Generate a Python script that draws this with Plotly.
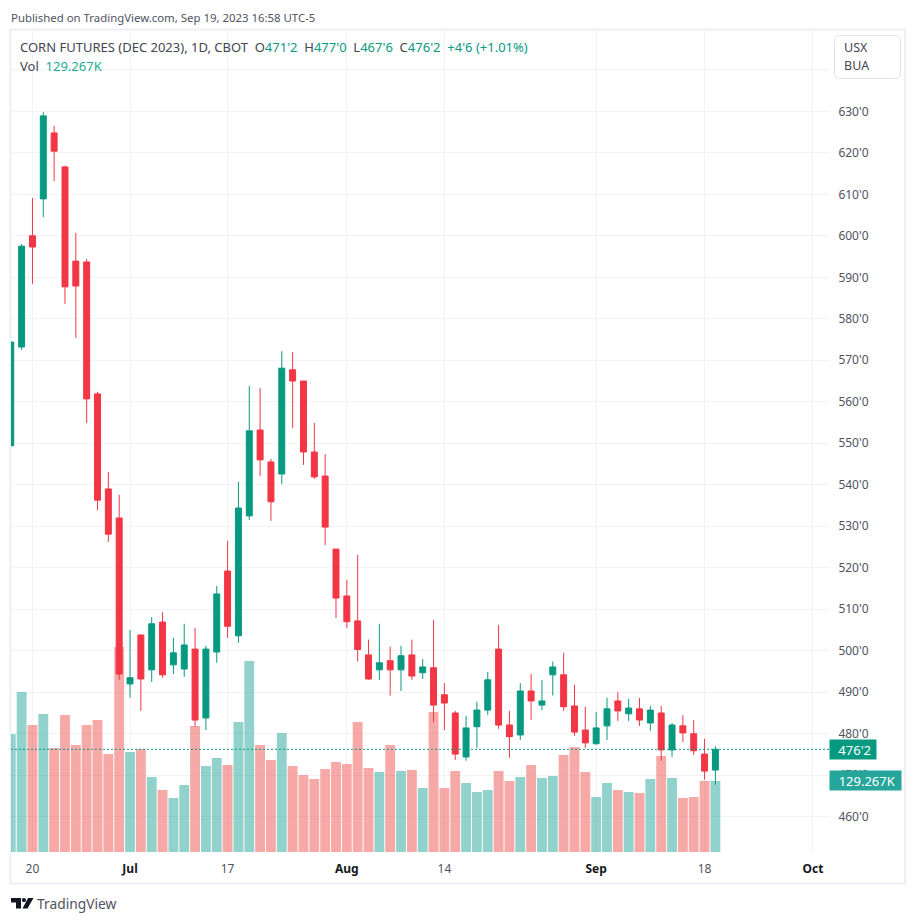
import plotly.graph_objects as go

# trading days, Sep 20 onward have no bars yet
dates = [
    '2023-06-15', '2023-06-16', '2023-06-20', '2023-06-21', '2023-06-22', '2023-06-23', '2023-06-26', '2023-06-27',
    '2023-06-28', '2023-06-29', '2023-06-30', '2023-07-03', '2023-07-05', '2023-07-06', '2023-07-07', '2023-07-10',
    '2023-07-11', '2023-07-12', '2023-07-13', '2023-07-14', '2023-07-17', '2023-07-18', '2023-07-19', '2023-07-20',
    '2023-07-21', '2023-07-24', '2023-07-25', '2023-07-26', '2023-07-27', '2023-07-28', '2023-07-31', '2023-08-01',
    '2023-08-02', '2023-08-03', '2023-08-04', '2023-08-07', '2023-08-08', '2023-08-09', '2023-08-10', '2023-08-11',
    '2023-08-14', '2023-08-15', '2023-08-16', '2023-08-17', '2023-08-18', '2023-08-21', '2023-08-22', '2023-08-23',
    '2023-08-24', '2023-08-25', '2023-08-28', '2023-08-29', '2023-08-30', '2023-08-31', '2023-09-01', '2023-09-05',
    '2023-09-06', '2023-09-07', '2023-09-08', '2023-09-11', '2023-09-12', '2023-09-13', '2023-09-14', '2023-09-15',
    '2023-09-18', '2023-09-19',
]
future_dates = [
    '2023-09-20', '2023-09-21', '2023-09-22', '2023-09-25', '2023-09-26', '2023-09-27', '2023-09-28', '2023-09-29',
    '2023-10-02', '2023-10-03',
]

open_ = [
    549.4, 573.2, 600.0, 608.9, 624.8, 616.6, 593.9, 593.7, 561.9, 539.0, 532.0, 492.0, 503.8, 495.4, 506.9, 496.6,
    495.6, 500.4, 483.8, 499.7, 519.2, 503.6, 532.5, 553.2, 545.5, 542.6, 567.7, 565.0, 547.9, 542.1, 524.5, 513.2,
    507.2, 499.0, 495.4, 497.6, 495.4, 499.0, 494.7, 495.9, 489.4, 485.0, 474.4, 481.7, 485.7, 500.4, 482.1, 479.7,
    490.3, 486.9, 494.2, 494.2, 486.7, 480.9, 477.6, 481.9, 487.9, 484.8, 486.0, 482.6, 485.0, 476.1, 481.9, 480.0,
    475.1, 471.25,
]
high = [
    574.4, 598.0, 609.1, 629.8, 626.5, 616.9, 600.7, 594.4, 562.4, 543.1, 537.6, 505.0, 503.9, 508.1, 509.3, 503.1,
    506.5, 505.5, 501.2, 515.6, 526.5, 540.7, 563.8, 563.3, 546.2, 572.2, 572.0, 565.0, 554.9, 547.4, 524.5, 517.1,
    523.1, 502.7, 506.5, 501.0, 501.2, 502.7, 498.0, 507.4, 492.2, 485.5, 484.3, 487.7, 494.9, 506.2, 485.5, 492.2,
    494.4, 493.0, 497.4, 499.5, 491.8, 486.5, 485.3, 488.7, 490.1, 488.4, 488.6, 486.7, 486.7, 482.6, 484.5, 483.3,
    478.8, 477.0,
]
low = [
    549.4, 572.5, 588.4, 604.5, 613.2, 583.6, 575.4, 554.9, 533.9, 526.2, 493.0, 488.7, 485.5, 492.5, 493.5, 494.4,
    493.7, 481.7, 480.9, 497.1, 503.1, 501.9, 531.5, 542.1, 531.3, 540.2, 553.7, 544.8, 541.4, 525.5, 507.9, 505.5,
    497.4, 493.0, 493.0, 489.2, 490.3, 493.0, 493.2, 482.8, 480.9, 473.7, 473.5, 476.6, 484.5, 481.2, 474.2, 478.5,
    483.3, 485.7, 489.2, 485.5, 479.5, 476.6, 477.3, 478.5, 483.1, 483.1, 481.9, 480.7, 473.5, 474.4, 478.0, 474.9,
    468.9, 467.75,
]
close = [
    574.4, 597.5, 597.3, 628.9, 620.4, 587.7, 587.9, 560.7, 536.3, 528.1, 494.4, 493.5, 493.2, 506.5, 494.2, 499.5,
    501.4, 483.3, 500.4, 513.7, 505.9, 534.4, 553.0, 546.0, 535.9, 568.1, 565.0, 547.9, 541.9, 529.8, 512.7, 507.0,
    500.3, 493.2, 497.1, 495.4, 498.8, 493.9, 496.1, 486.9, 487.4, 475.1, 481.4, 485.7, 493.0, 482.1, 479.3, 490.3,
    487.9, 487.9, 496.1, 486.5, 480.4, 477.8, 481.4, 486.0, 485.5, 486.2, 483.3, 485.7, 476.1, 482.1, 480.2, 475.9,
    471.0, 476.25,
]
volume = [
    214.8, 291.2, 231.1, 251.2, 189.3, 249.3, 194.7, 231.1, 240.2, 178.4, 373.1, 182.0, 187.5, 136.5, 112.8, 98.3,
    121.9, 229.3, 156.5, 171.1, 158.3, 236.6, 347.6, 194.7, 167.4, 216.6, 156.5, 140.1, 132.9, 151.1, 163.8, 160.2,
    236.6, 152.9, 145.6, 194.7, 147.4, 149.2, 116.5, 254.8, 116.5, 147.4, 125.6, 109.2, 112.8, 147.4, 129.2, 136.5,
    158.3, 134.7, 138.3, 176.5, 191.1, 145.6, 100.1, 125.6, 112.8, 109.2, 107.4, 132.9, 174.7, 134.7, 98.3, 100.1,
    129.2, 129.267,
]

price_ticks = [460, 470, 480, 490, 500, 510, 520, 530, 540, 550, 560, 570, 580, 590, 600, 610, 620, 630, 640]
price_labels = ["460'0", "470'0", "480'0", "490'0", "500'0", "510'0", "520'0", "530'0", "540'0", "550'0", "560'0",
                "570'0", "580'0", "590'0", "600'0", "610'0", "620'0", "630'0", ""]
date_ticks = ['2023-06-20', '2023-07-03', '2023-07-17', '2023-08-01', '2023-08-14', '2023-09-01', '2023-09-18', '2023-10-02']
date_labels = ['20', 'Jul', '17', 'Aug', '14', 'Sep', '18', 'Oct']

GREEN = '#089981'
RED = '#F23645'
GREEN_VOL = 'rgba(38,166,154,0.5)'
RED_VOL = 'rgba(239,83,80,0.5)'
GRID = '#f2f3f6'
FRAME = '#eeeff5'
TEXT = '#50535e'
LEGEND_TEXT = '#434651'
FONT = 'Noto Sans'

W, H = 916, 923
L, R, T, B = 11, 87, 30, 71


# page pixels to paper coordinates, for the frame and the logo
def px(x):
    return (x - L) / (W - L - R)


def py(y):
    return 1 - (y - T) / (H - T - B)


def path(points):
    return 'M ' + ' L '.join(f'{px(x)} {py(y)}' for x, y in points) + ' Z'


def rounded_box(x0, y0, x1, y1, r):
    return (
        f'M {px(x0 + r)} {py(y0)} L {px(x1 - r)} {py(y0)} Q {px(x1)} {py(y0)} {px(x1)} {py(y0 + r)} '
        f'L {px(x1)} {py(y1 - r)} Q {px(x1)} {py(y1)} {px(x1 - r)} {py(y1)} '
        f'L {px(x0 + r)} {py(y1)} Q {px(x0)} {py(y1)} {px(x0)} {py(y1 - r)} '
        f'L {px(x0)} {py(y0 + r)} Q {px(x0)} {py(y0)} {px(x0 + r)} {py(y0)} Z'
    )


fig = go.Figure()

# volume first so it sits under the candles
fig.add_trace(go.Bar(
    x=dates, y=volume, yaxis='y', hoverinfo='skip',
    marker=dict(color=[GREEN_VOL if c >= o else RED_VOL for o, c in zip(open_, close)], line_width=0),
))
fig.add_trace(go.Candlestick(
    x=dates, open=open_, high=high, low=low, close=close, yaxis='y2', hoverinfo='skip',
    increasing=dict(line=dict(color=GREEN, width=1), fillcolor=GREEN),
    decreasing=dict(line=dict(color=RED, width=1), fillcolor=RED),
))

last_close = close[-1]
last_volume = volume[-1]

shapes = [
    # outer frame
    dict(type='rect', xref='paper', yref='paper', x0=px(10.5), x1=px(905), y0=py(29.5), y1=py(883.5),
         line=dict(color=FRAME, width=2), layer='below'),
    # last price line
    dict(type='line', xref='paper', yref='y2', x0=0, x1=1, y0=last_close, y1=last_close,
         line=dict(color=GREEN, width=1, dash='2px,2px')),
    # currency box
    dict(type='path', xref='paper', yref='paper', path=rounded_box(834.5, 35.5, 900.5, 78.5, 5),
         line=dict(color='#e0e3eb', width=1), fillcolor='white'),
    # logo
    dict(type='path', xref='paper', yref='paper', line_width=0, fillcolor='#131722',
         path=path([(11, 898), (21, 898), (21, 908.5), (16, 908.5), (16, 902.5), (11, 902.5)])),
    dict(type='circle', xref='paper', yref='paper', line_width=0, fillcolor='#131722',
         x0=px(21.8), x1=px(26), y0=py(898), y1=py(902.2)),
    dict(type='path', xref='paper', yref='paper', line_width=0, fillcolor='#131722',
         path=path([(28, 898), (33.5, 898), (27.5, 908.5), (22.5, 908.5)])),
]

legend_row = (
    "CORN FUTURES (DEC 2023), 1D, CBOT&nbsp;&nbsp;"
    f"O<span style='color:{GREEN}'>471'2</span>&nbsp;&nbsp;"
    f"H<span style='color:{GREEN}'>477'0</span>&nbsp;&nbsp;"
    f"L<span style='color:{GREEN}'>467'6</span>&nbsp;&nbsp;"
    f"C<span style='color:{GREEN}'>476'2</span>&nbsp;&nbsp;"
    f"<span style='color:{GREEN}'>+4'6 (+1.01%)</span>"
)


def label(text, x, y, size=12, color=TEXT, **kw):
    # annotations carry about 2px of padding on the left
    return dict(text=text, xref='paper', yref='paper', x=px(x - 2), y=py(y), xanchor='left', yanchor='middle',
                showarrow=False, font=dict(family=FONT, size=size, color=color), **kw)


annotations = [
    label('Published on TradingView.com, Sep 19, 2023 16:58 UTC-5', 11, 17.5, size=11.4),
    label(legend_row, 20, 47.5, size=13, color=LEGEND_TEXT),
    label(f"Vol&nbsp;&nbsp;<span style='color:#22ab94'>{last_volume}K</span>", 20, 66.5, size=13, color=LEGEND_TEXT),
    label('USX', 844, 48, size=12.5, color=LEGEND_TEXT),
    label('BUA', 844, 66, size=12.5, color=LEGEND_TEXT),
    label('TradingView', 37, 903.5, size=13.8),
    dict(text=f"&nbsp;476'2", xref='paper', yref='y2', x=1, y=last_close, xanchor='left', yanchor='middle',
         showarrow=False, bgcolor=GREEN, width=46, height=19, align='center', borderpad=0,
         font=dict(family=FONT, size=13, color='white')),
    dict(text=f'&nbsp;{last_volume}K', xref='paper', yref='y', x=1, y=last_volume, xanchor='left', yanchor='middle',
         showarrow=False, bgcolor='#26a69a', width=71, height=19, align='center', borderpad=0,
         font=dict(family=FONT, size=13, color='white')),
]

fig.update_layout(
    width=W, height=H, margin=dict(l=L, r=R, t=T, b=B),
    paper_bgcolor='white', plot_bgcolor='white',
    showlegend=False, bargap=0.09, boxgap=0.45, boxgroupgap=0,
    shapes=shapes, annotations=annotations,
    xaxis=dict(
        type='category', categoryorder='array', categoryarray=dates + future_dates,
        range=[0.02, 75.48], rangeslider_visible=False,
        tickmode='array', tickvals=date_ticks,
        ticktext=[f"<span style='color:#131722'><b>{t}</b></span>" if t.isalpha() else t for t in date_labels],
        showgrid=True, gridcolor=GRID, gridwidth=1, zeroline=False, showline=False,
        ticks='outside', ticklen=6, tickcolor='rgba(0,0,0,0)',
        tickfont=dict(family=FONT, size=12, color=TEXT),
    ),
    yaxis=dict(range=[0, 1496], visible=False, showgrid=False),
    yaxis2=dict(
        overlaying='y', side='right', range=[451.5, 649.6],
        tickmode='array', tickvals=price_ticks, ticktext=price_labels,
        showgrid=True, gridcolor=GRID, gridwidth=1, zeroline=False, showline=False,
        ticks='outside', ticklen=6, tickcolor='rgba(0,0,0,0)',
        tickfont=dict(family=FONT, size=12, color=TEXT),
    ),
)

fig.write_html('out.html', config=dict(displayModeBar=False), post_script="document.body.style.margin='0';")
